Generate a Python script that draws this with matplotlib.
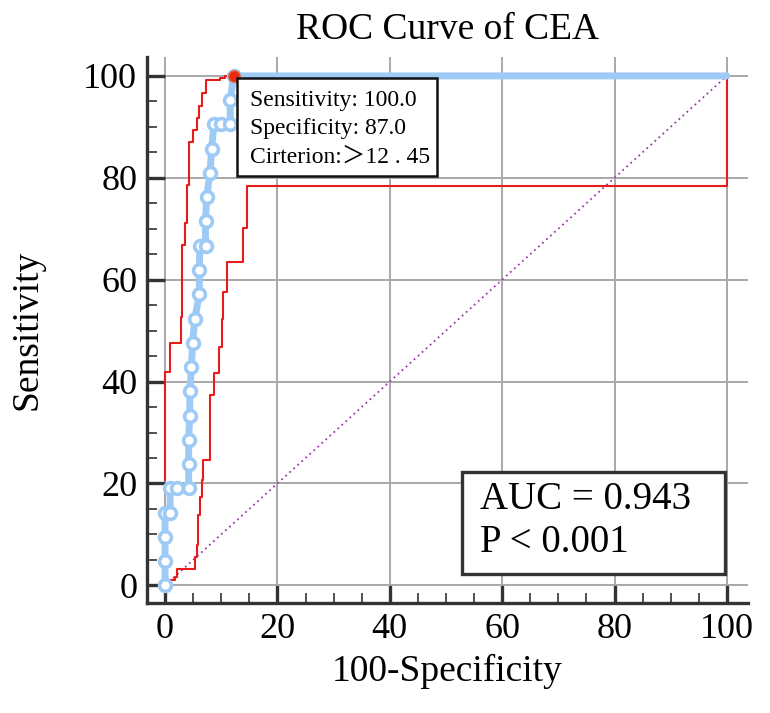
import matplotlib
matplotlib.use('Agg')
import matplotlib.pyplot as plt
from matplotlib.patches import Rectangle
from matplotlib.ticker import MultipleLocator

plt.rcParams['font.family'] = ['Liberation Serif', 'Noto Sans CJK SC', 'DejaVu Serif']

# ROC curve of CEA (100-specificity, sensitivity)
roc_x = [0, 0, 0, 0, 0.9, 0.9, 2.2, 4.2, 4.2, 4.2, 4.4, 4.4, 4.7, 4.9, 5.3,
         6.1, 6.1, 6.2, 7.2, 7.2, 7.4, 8.0, 8.3, 8.7, 10.0, 11.6, 11.6, 12.2, 100]
roc_y = [0, 4.76, 9.52, 14.29, 14.29, 19.05, 19.05, 19.05, 23.81, 28.57, 33.33,
         38.10, 42.86, 47.62, 52.38, 57.14, 61.90, 66.67, 66.67, 71.43, 76.19,
         80.95, 85.71, 90.48, 90.48, 90.48, 95.24, 100, 100]

# 95% confidence bounds
upper_x = [0, 0.8, 2.85, 3.1, 3.5, 3.9, 4.3, 5.0, 5.6, 6.1, 6.5, 7.3, 9.8, 10.7, 100]
upper_y = [20.6, 41.9, 47.5, 52.7, 66.8, 71.1, 78.6, 87.1, 89.4, 91.7, 94.0, 96.6,
           99.1, 99.6, 100]
lower_x = [0.3, 1.8, 2.2, 5.3, 5.6, 5.9, 6.2, 6.5, 6.8, 8.0, 8.8, 9.6, 10.1, 10.4,
           11.0, 13.8, 14.5, 100]
lower_y = [1.0, 1.6, 3.3, 5.6, 7.9, 13.8, 17.3, 20.6, 24.6, 37.3, 41.6, 46.8, 52.2,
           57.6, 63.5, 70.1, 78.4, 100]

ref_line = [0, 100]
cut_x, cut_y = 12.2, 100

fig = plt.figure(figsize=(7.7, 7.13), dpi=100)
ax = fig.add_axes([0.191, 0.154, 0.780, 0.766])

ax.set_xlim(-3.2, 103.7)
ax.set_ylim(-3.5, 103.7)

ax.grid(True, which='major', color='#a8a8a8', linewidth=1.4, zorder=0)
ax.set_axisbelow(True)

ax.plot(ref_line, ref_line, color='#9a3aa8', linestyle=(0, (1, 2)), linewidth=1.3, zorder=2)
ax.plot(upper_x, upper_y, drawstyle='steps-pre', color='#e81a1a', linewidth=1.5, zorder=3)
ax.plot(lower_x, lower_y, drawstyle='steps-post', color='#e81a1a', linewidth=1.5, zorder=3)

ax.plot(roc_x, roc_y, color='#9ecbf5', linewidth=5, solid_capstyle='round', zorder=4)
ax.plot(roc_x[:-1], roc_y[:-1], linestyle='none', marker='o', markersize=8.5,
        markerfacecolor='white', markeredgecolor='#9ecbf5', markeredgewidth=2.6, zorder=5)
ax.plot([cut_x], [cut_y], marker='o', markersize=8, color='#ea2a10',
        markeredgecolor='#f05020', zorder=6)

for s in ['top', 'right']:
    ax.spines[s].set_visible(False)
for s in ['left', 'bottom']:
    ax.spines[s].set_linewidth(2.4)
    ax.spines[s].set_color('#333333')

ax.xaxis.set_major_locator(MultipleLocator(20))
ax.yaxis.set_major_locator(MultipleLocator(20))
ax.xaxis.set_minor_locator(MultipleLocator(5))
ax.yaxis.set_minor_locator(MultipleLocator(5))
ax.tick_params(which='major', direction='in', length=13, width=2.4, color='#333333',
               labelsize=26, pad=7)
ax.tick_params(which='minor', direction='in', length=7, width=1.2, color='#333333')
ax.tick_params(axis='y', pad=7)

ax.set_title('ROC Curve of CEA', fontsize=27, pad=13)
ax.set_xlabel('100-Specificity', fontsize=27, labelpad=6)
ax.set_ylabel('Sensitivity', fontsize=27, labelpad=28)

# cut-off tooltip
ax.add_patch(Rectangle((0.150, 0.782), 0.333, 0.180, transform=ax.transAxes,
                       facecolor='white', edgecolor='#111111', linewidth=1.8, zorder=7))
tip_lines = ['Sensitivity: 100.0', 'Specificity: 87.0', 'Cirterion:＞12 . 45']
for i, t in enumerate(tip_lines):
    ax.text(0.171, 0.921 - i * 0.052, t, transform=ax.transAxes, fontsize=17,
            va='center', ha='left', zorder=8)

# AUC box
ax.add_patch(Rectangle((0.524, 0.053), 0.439, 0.187, transform=ax.transAxes,
                       facecolor='white', edgecolor='#333333', linewidth=2.4, zorder=7))
ax.text(0.554, 0.189, 'AUC = 0.943', transform=ax.transAxes, fontsize=28,
        va='center', ha='left', zorder=8)
ax.text(0.554, 0.112, 'P < 0.001', transform=ax.transAxes, fontsize=28,
        va='center', ha='left', zorder=8)

fig.savefig('out.png', dpi=100)
